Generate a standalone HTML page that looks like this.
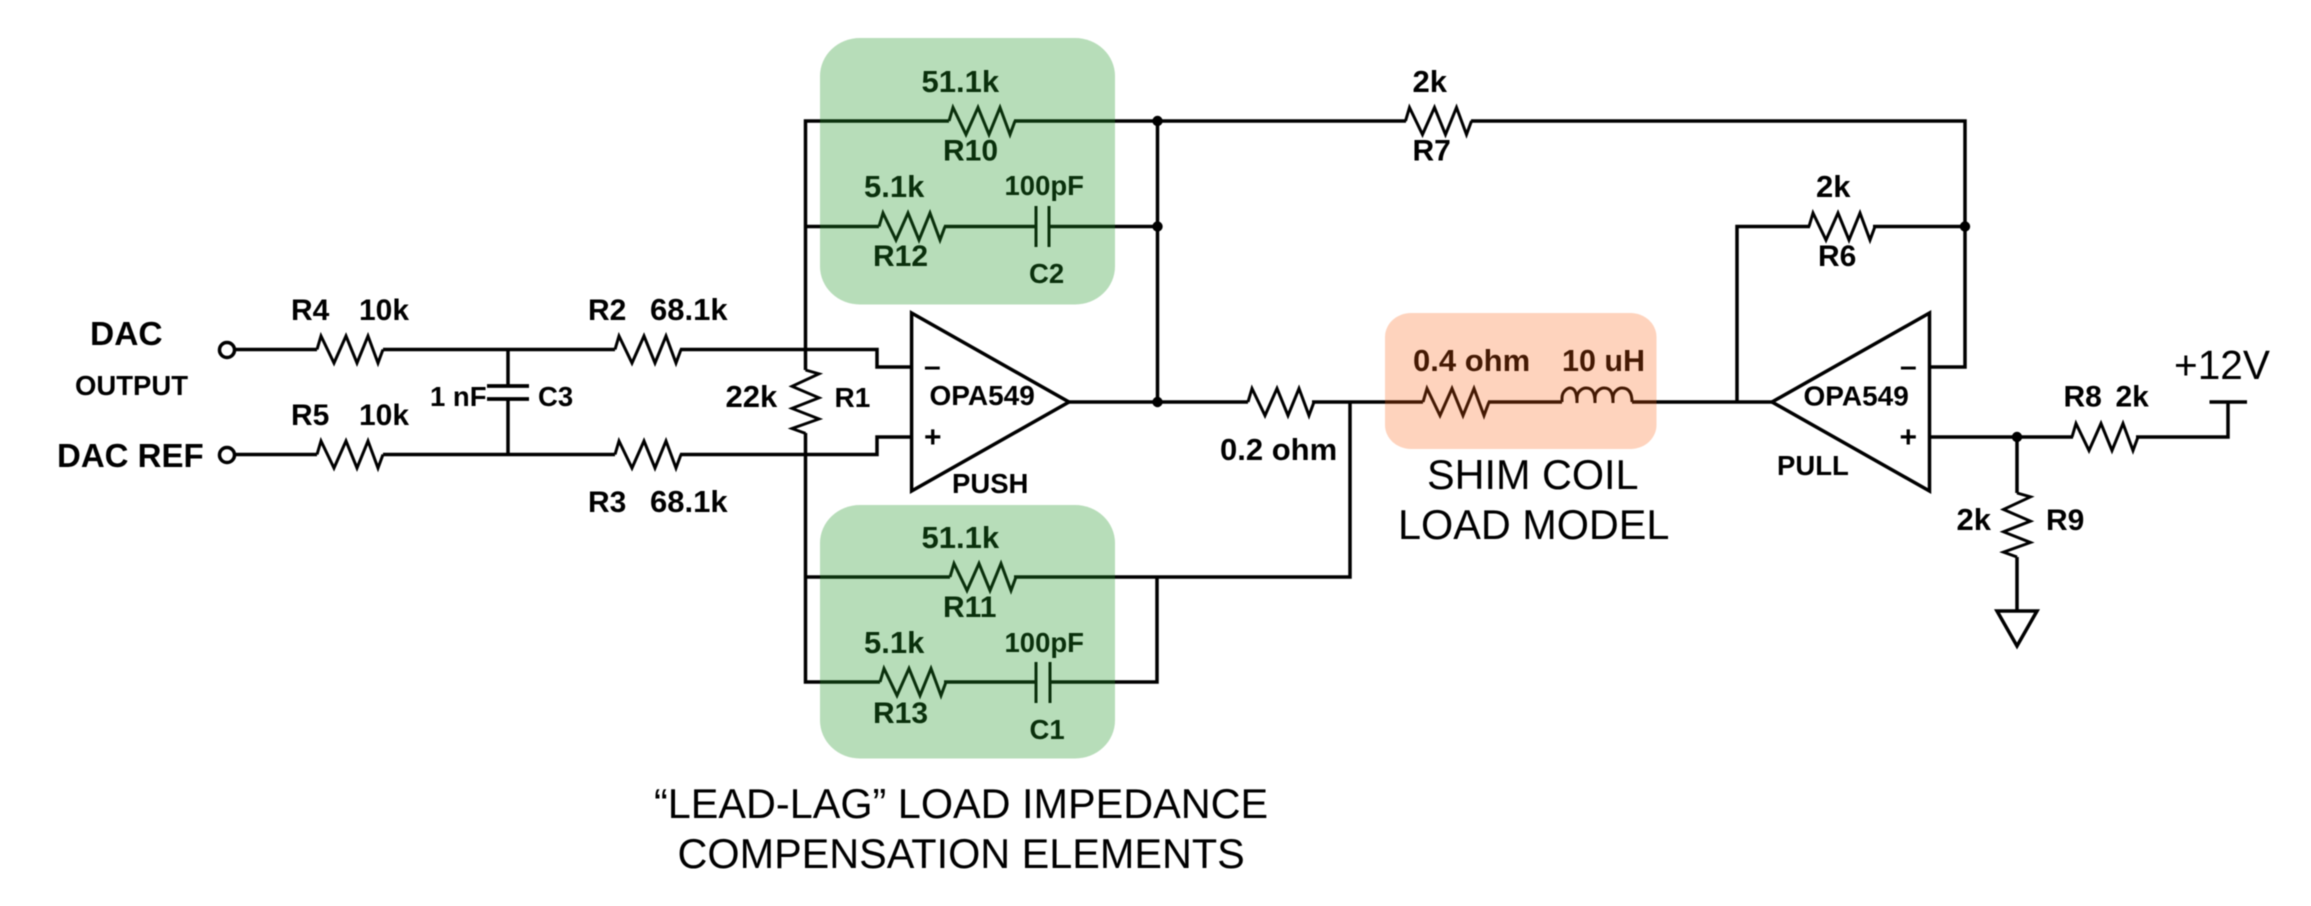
<!DOCTYPE html>
<html><head><meta charset="utf-8"><title>Shim coil driver</title>
<style>
html,body{margin:0;padding:0;background:#fff}
svg{display:block;filter:blur(.55px)}
text{font-family:"Liberation Sans",Arial,sans-serif;fill:#000}
.b{font-weight:700;font-size:30px}
.s{font-weight:700;font-size:27.5px}
.l{font-size:41.4px}
.w{fill:none;stroke:#000;stroke-width:3.5;stroke-linejoin:miter}
.z{fill:none;stroke:#000;stroke-width:3;stroke-linejoin:miter}
</style></head><body>
<svg width="2311" height="906" viewBox="0 0 2311 906" xmlns="http://www.w3.org/2000/svg">
<defs><path id="r" d="M0 0L4 -13.5L17 13.5L29 -13.5L40 13.5L51 -13.5L61 13.5L66 0" class="z"/></defs>

<!-- wires -->
<g class="w">
<path d="M235 349.5H317M383 349.5H615M680 349.5H877V367H912"/>
<path d="M235 454.5H317M383 454.5H615M680 454.5H877V437H912"/>
<path d="M508 349.5V386M508 399V454.5"/>
<path d="M487 386H529M487 399H529" stroke-width="3.8"/>
<path d="M949 121H805.5V370M805.5 433V682H880M944 682H1036M1050 682H1157V577"/>
<path d="M806 577H950M1014 577H1350V402"/>
<path d="M1014 121H1406M1471 121H1965V367H1929.5"/>
<path d="M805.5 226.5H879M944 226.5H1036M1049 226.5H1157.5M1157.5 121V402"/>
<path d="M1069 402H1248M1312 402H1423M1488 402H1562M1632 402H1772"/>
<path d="M1737 402V226.5H1810M1873 226.5H1965"/>
<path d="M1929.5 437H2073M2136 437H2228V402M2209.5 402H2247"/>
<path d="M2017 437V493M2017 557V611"/>
<path d="M911.6 313L1069 402L911.6 491Z"/>
<path d="M1929.5 313L1772 402L1929.5 491Z"/>
<path d="M1997 611H2037L2017 646Z"/>
<path d="M1036 206V247M1049 206V247M1036 662V703M1050 662V703" stroke-width="3"/>
</g>
<circle cx="227" cy="350" r="7.5" class="w"/>
<circle cx="227" cy="455" r="7.5" class="w"/>
<g fill="#000">
<circle cx="1157.5" cy="121" r="5.2"/><circle cx="1157.5" cy="226.5" r="5.2"/><circle cx="1157.5" cy="402" r="5.2"/>
<circle cx="1965" cy="226.5" r="5.2"/><circle cx="2017" cy="437" r="5.2"/>
</g>

<!-- resistors -->
<use href="#r" x="317" y="349.5"/><use href="#r" x="615" y="349.5"/>
<use href="#r" x="317" y="454.5"/><use href="#r" x="615" y="454.5"/>
<use href="#r" x="949" y="121"/><use href="#r" x="1405.5" y="121"/>
<use href="#r" x="879" y="226.5"/><use href="#r" x="1809" y="226.5"/>
<use href="#r" x="1248" y="402"/><use href="#r" x="1423" y="402"/>
<use href="#r" x="950" y="577"/><use href="#r" x="880" y="682"/>
<use href="#r" x="2072" y="437"/>
<use href="#r" transform="translate(805.5 370) rotate(90) scale(.96 1)"/>
<use href="#r" transform="translate(2017 493) rotate(90) scale(.97 1)"/>
<!-- inductor -->
<path class="z" d="M1562 402V398C1562 391 1568 388 1570 388C1574 388 1577 392 1577 403M1577 403V398C1577 391 1583 388 1586 388C1592 388 1595 392 1595 403M1595 403V398C1595 391 1601 388 1604 388C1610 388 1613 392 1613 403M1613 403V398C1613 391 1619 388 1622 388C1629 388 1632 393 1632 402"/>

<!-- labels -->
<text x="90" y="345" class="b" style="font-size:33.5px">DAC</text>
<text x="75" y="395" class="s">OUTPUT</text>
<text x="57" y="467" class="b" style="font-size:33px">DAC REF</text>
<text x="291" y="320" class="b">R4</text><text x="359" y="320" class="b">10k</text>
<text x="291" y="425" class="b">R5</text><text x="359" y="425" class="b">10k</text>
<text x="588" y="320" class="b">R2</text><text x="650" y="320" class="b" style="font-size:31px">68.1k</text>
<text x="588" y="512" class="b">R3</text><text x="650" y="512" class="b" style="font-size:31px">68.1k</text>
<text x="430" y="406" class="s">1 nF</text><text x="538" y="406" class="s">C3</text>
<text x="725.5" y="407" class="b" style="font-size:31px">22k</text><text x="834.5" y="407" class="b" style="font-size:28px">R1</text>
<text x="921.5" y="92" class="b" style="font-size:31px">51.1k</text><text x="943" y="160.5" class="b">R10</text>
<text x="864" y="197" class="b" style="font-size:31px">5.1k</text><text x="1004.5" y="195" class="s">100pF</text>
<text x="873" y="266" class="b">R12</text><text x="1029" y="283" class="s">C2</text>
<text x="1412.5" y="92" class="b" style="font-size:31px">2k</text><text x="1412.5" y="160.5" class="b">R7</text>
<text x="929.5" y="405" class="s" style="font-size:28px">OPA549</text>
<text x="952" y="493" class="s">PUSH</text>
<text x="924" y="376" class="b">–</text><text x="924" y="447" class="b">+</text>
<text x="1220" y="460" class="b" style="font-size:31px">0.2 ohm</text>
<text x="1413" y="371" class="b" style="font-size:31px">0.4 ohm</text><text x="1562" y="371" class="b" style="font-size:30.5px">10 uH</text>
<text x="1427" y="489" class="l">SHIM COIL</text><text x="1398" y="539" class="l">LOAD MODEL</text>
<text x="654" y="818" class="l">“LEAD-LAG” LOAD IMPEDANCE</text>
<text x="677.5" y="868" class="l">COMPENSATION ELEMENTS</text>
<text x="921.5" y="548" class="b" style="font-size:31px">51.1k</text><text x="943" y="617" class="b">R11</text>
<text x="864" y="653" class="b" style="font-size:31px">5.1k</text><text x="1004.5" y="652" class="s">100pF</text>
<text x="873" y="723" class="b">R13</text><text x="1029.5" y="739" class="s">C1</text>
<text x="1803.5" y="405.5" class="s" style="font-size:28px">OPA549</text>
<text x="1777" y="475" class="s">PULL</text>
<text x="1900" y="376" class="b">–</text><text x="1899.5" y="447" class="b">+</text>
<text x="1816" y="197" class="b" style="font-size:31px">2k</text><text x="1818" y="266" class="b">R6</text>
<text x="2063.5" y="406.5" class="b">R8</text><text x="2115.5" y="406.5" class="b" style="font-size:30px">2k</text>
<text x="2174" y="379" style="font-size:40.6px">+12V</text>
<text x="1956.5" y="530" class="b" style="font-size:31px">2k</text><text x="2046" y="530" class="b">R9</text>

<!-- translucent highlight boxes (over content to tint it) -->
<rect x="820" y="38" width="295" height="266.5" rx="40" ry="38" fill="rgb(31,150,37)" opacity=".32"/>
<rect x="820" y="505" width="295" height="253.5" rx="40" ry="38" fill="rgb(31,150,37)" opacity=".32"/>
<rect x="1385" y="313" width="271.5" height="136" rx="26" ry="24" fill="rgb(250,93,10)" opacity=".27"/>
</svg>
</body></html>
